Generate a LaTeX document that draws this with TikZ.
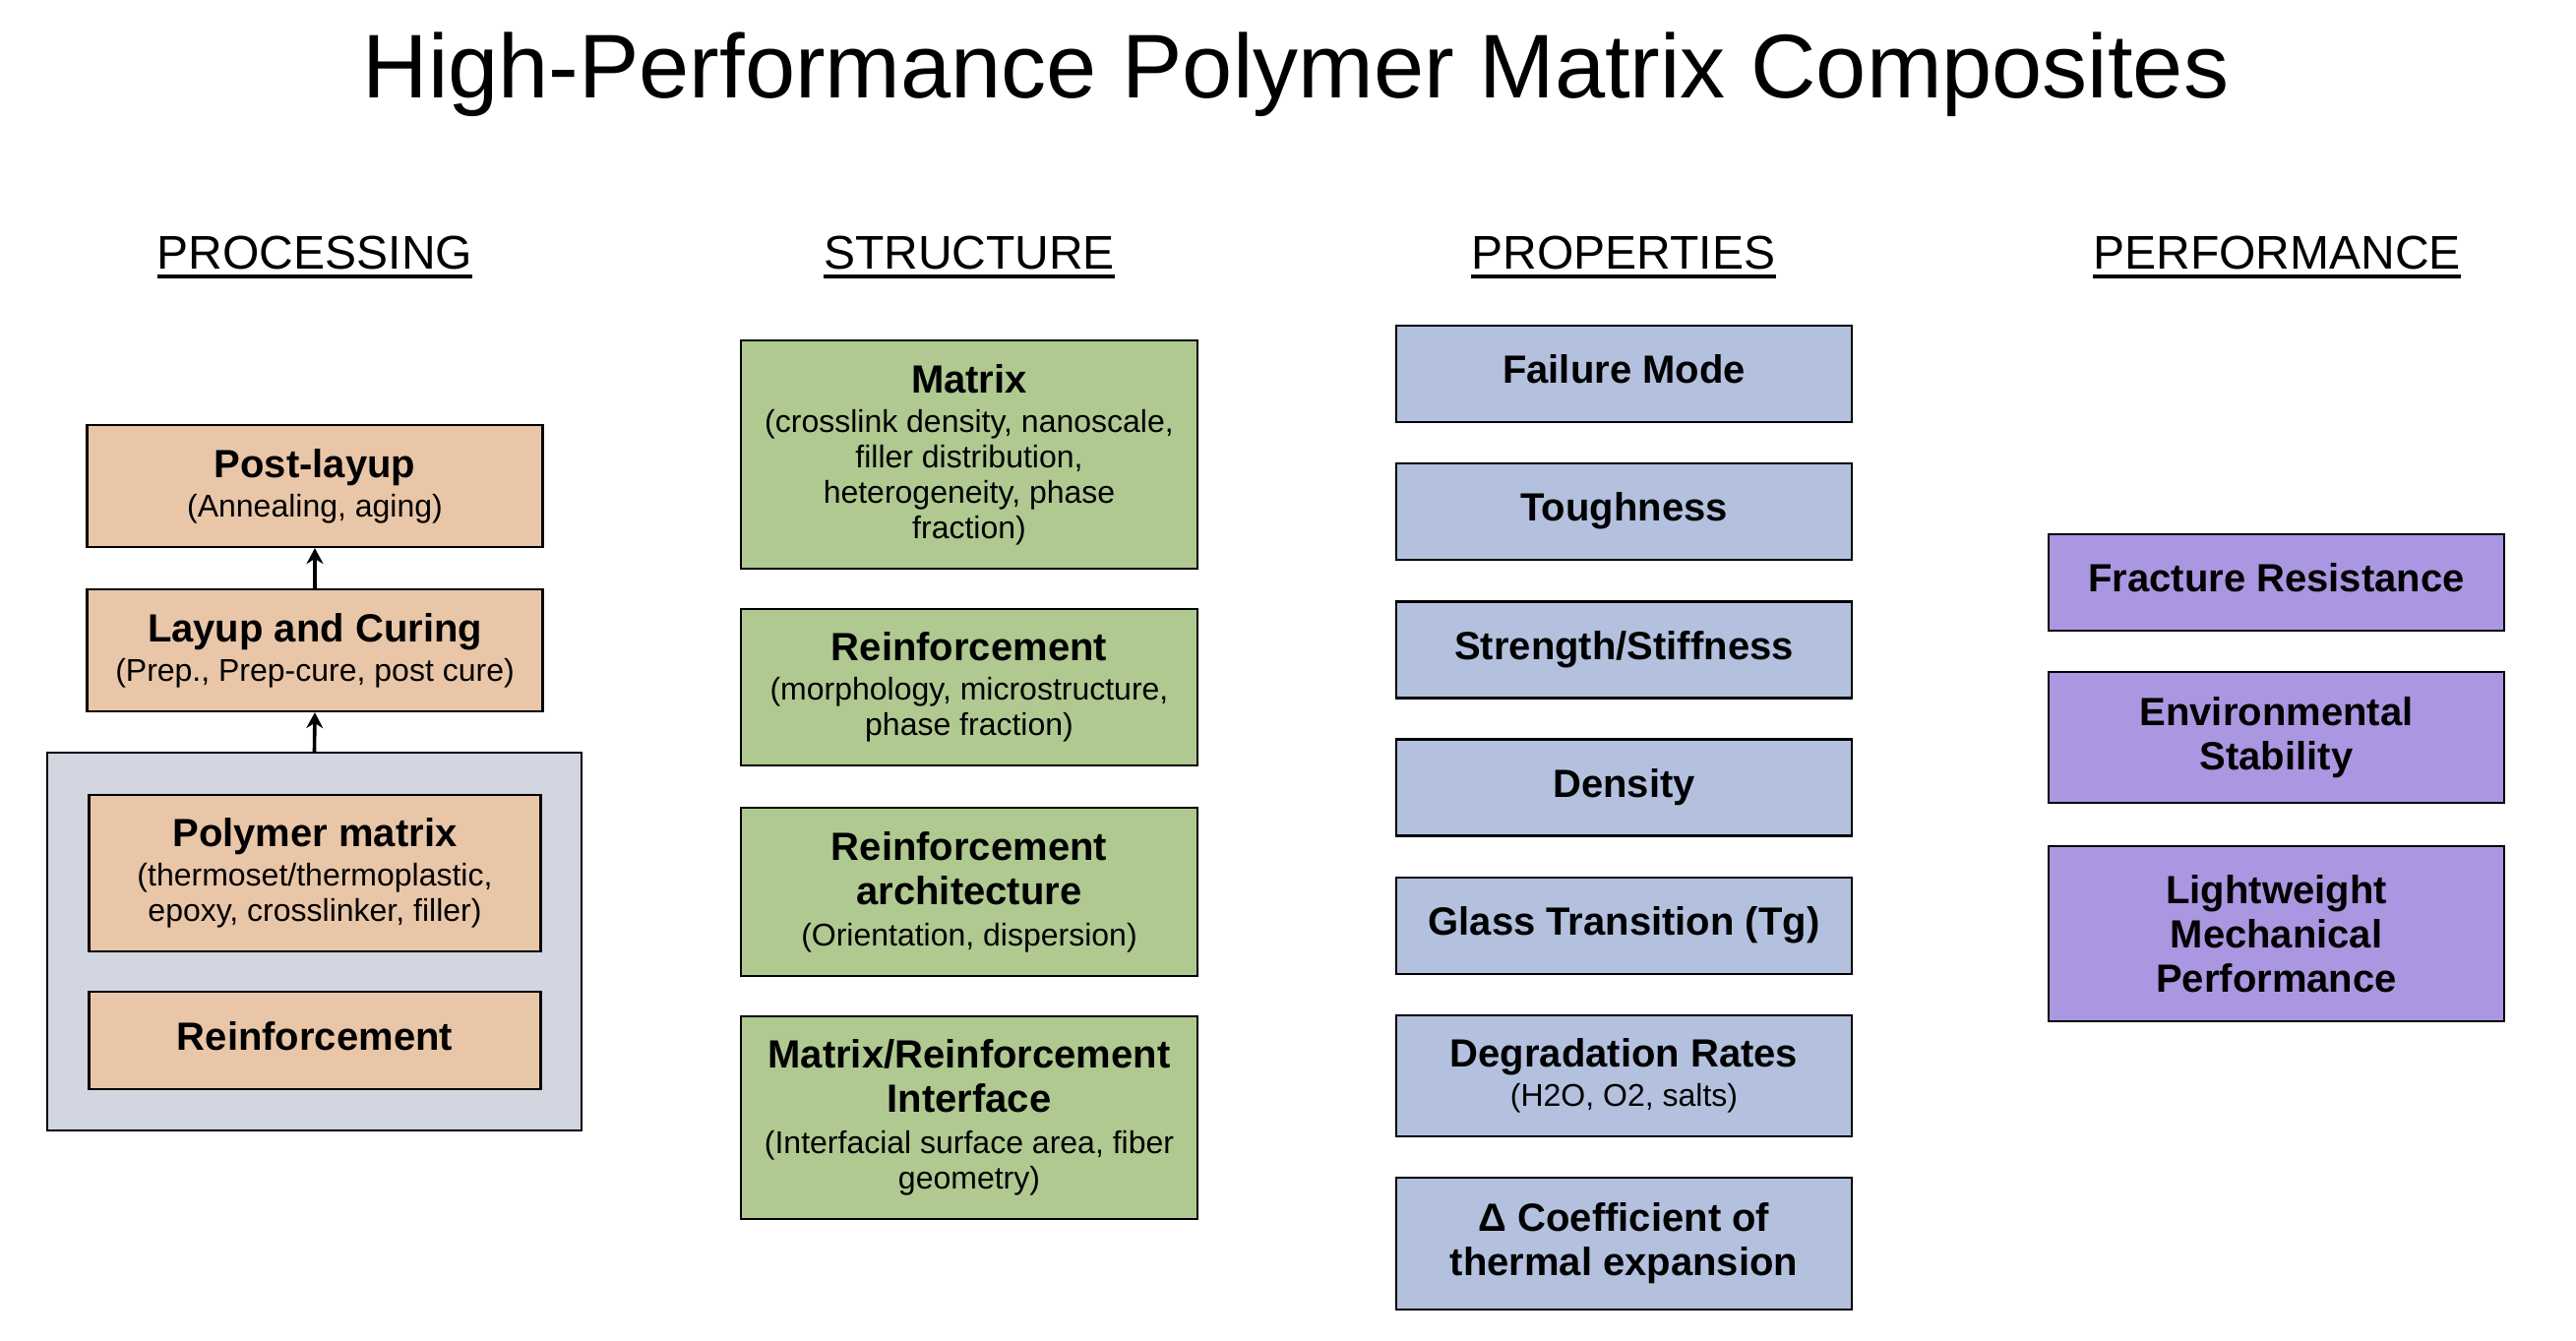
\documentclass[tikz,border=0pt]{standalone}
\usepackage{fontspec}
\setmainfont{Liberation Sans}
\usetikzlibrary{arrows.meta}
\definecolor{peach}{RGB}{233,198,168}
\definecolor{sage}{RGB}{175,201,145}
\definecolor{lblue}{RGB}{179,193,223}
\definecolor{lpurple}{RGB}{171,150,225}
\definecolor{lgray}{RGB}{210,214,224}
\newcommand\boxttl{\fontsize{20}{22.5}\selectfont\bfseries}
\newcommand\boxsubt{\fontsize{16}{18}\selectfont\mdseries}
\tikzset{
  cbox/.style={draw=black, line width=1.1pt, align=center, inner sep=0pt, font=\boxttl},
  oneline/.style={text height=14.5pt, text depth=5pt},
  procbox/.style={cbox, fill=peach, minimum width=231.5pt},
  strbox/.style={cbox, fill=sage, minimum width=232pt},
  propbox/.style={cbox, fill=lblue, minimum width=231.5pt},
  perfbox/.style={cbox, fill=lpurple, minimum width=231.5pt},
  hdr/.style={font=\fontsize{24}{28}\selectfont, inner sep=0pt, anchor=base},
  uline/.style={line width=2pt},
  uparrow/.style={line width=1.8pt, -{Stealth[length=8pt,width=8.5pt]}}
}
\begin{document}
\begin{tikzpicture}[x=0.5pt,y=-0.5pt]
\fill[white] (0,0) rectangle (2618,1362);
\useasboundingbox (0,0) rectangle (2618,1362);
% title
\node[font=\fontsize{46}{52}\selectfont, inner sep=0pt, anchor=base] (title) at (1317,99) {High-Performance Polymer Matrix Composites};
% headers
\node[hdr] (h1) at (320,273) {PROCESSING};
\node[hdr] (h2) at (985,273) {STRUCTURE};
\node[hdr] (h3) at (1650,273) {PROPERTIES};
\node[hdr] (h4) at (2314,273) {PERFORMANCE};
\foreach \h in {h1,h2,h3,h4}{
  \draw[uline] ([yshift=-4pt]\h.base west) -- ([yshift=-4pt]\h.base east);
}
% processing
\node[draw=black, line width=1.1pt, fill=lgray, minimum width=271.5pt, minimum height=192pt, inner sep=0pt] (grp) at (319.5,957) {};
\node[procbox, minimum height=62pt] (post) at (320,494) {Post-layup\\[-2.5pt]{\boxsubt (Annealing, aging)}};
\node[procbox, minimum height=62pt] (layup) at (320,661) {Layup and Curing\\[-2.5pt]{\boxsubt (Prep., Prep-cure, post cure)}};
\node[procbox, minimum width=229.5pt, minimum height=79.5pt] (poly) at (320,887.5) {Polymer matrix\\[-2.5pt]{\boxsubt (thermoset/thermoplastic,}\\[-4.5pt]{\boxsubt epoxy, crosslinker, filler)}};
\node[procbox, oneline, minimum width=229.5pt, minimum height=49.5pt] (preinf) at (320,1057.5) {Reinforcement};
\draw[uparrow] (grp.north) -- (layup.south);
\draw[uparrow] (layup.north) -- (post.south);
% structure
\node[strbox, minimum height=116pt] (smat) at (985,462) {Matrix\\[-2.5pt]{\boxsubt (crosslink density, nanoscale,}\\[-4.5pt]{\boxsubt filler distribution,}\\[-4.5pt]{\boxsubt heterogeneity, phase}\\[-4.5pt]{\boxsubt fraction)}};
\node[strbox, minimum height=79.5pt] (sreinf) at (985,698.5) {Reinforcement\\[-2.5pt]{\boxsubt (morphology, microstructure,}\\[-4.5pt]{\boxsubt phase fraction)}};
\node[strbox, minimum height=85.5pt] (sarch) at (985,906.5) {Reinforcement\\architecture\\[-1.5pt]{\boxsubt (Orientation, dispersion)}};
\node[strbox, minimum height=103pt] (sint) at (985,1136) {Matrix/Reinforcement\\Interface\\[-1.5pt]{\boxsubt (Interfacial surface area, fiber}\\[-4.5pt]{\boxsubt geometry)}};
% properties
\node[propbox, oneline, minimum height=49pt] (pfail) at (1650.5,380) {Failure Mode};
\node[propbox, oneline, minimum height=49pt] (ptough) at (1650.5,520) {Toughness};
\node[propbox, oneline, minimum height=49pt] (pstr) at (1650.5,660.5) {Strength/Stiffness};
\node[propbox, oneline, minimum height=49pt] (pdens) at (1650.5,800.5) {Density};
\node[propbox, oneline, minimum height=49pt] (pglass) at (1650.5,941) {Glass Transition (Tg)};
\node[propbox, minimum height=61.5pt] (pdeg) at (1650.5,1093.5) {Degradation Rates\\[-2.5pt]{\boxsubt (H2O, O2, salts)}};
\node[propbox, minimum height=67pt] (pcte) at (1650.5,1264) {Δ Coefficient of\\thermal expansion};
% performance
\node[perfbox, oneline, minimum height=49pt] (ffrac) at (2313.5,592) {Fracture Resistance};
\node[perfbox, minimum height=66.5pt] (fenv) at (2313.5,749.5) {Environmental\\Stability};
\node[perfbox, minimum height=89pt] (flight) at (2313.5,949) {Lightweight\\Mechanical\\Performance};
\end{tikzpicture}
\end{document}
